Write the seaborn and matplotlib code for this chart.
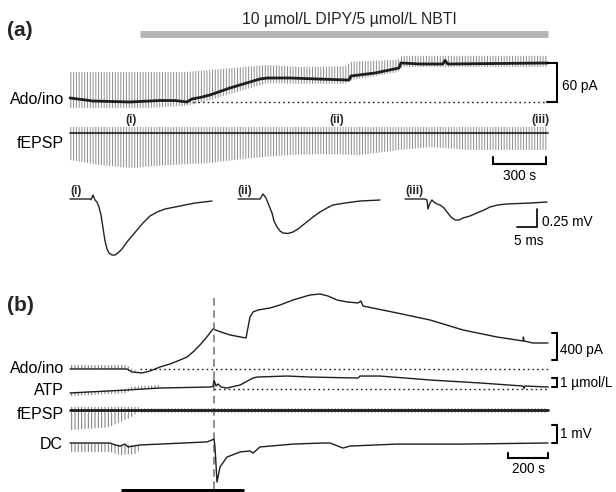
import matplotlib
matplotlib.use("Agg")
import matplotlib.pyplot as plt
import seaborn as sns

# ======================= DATA =======================
# ---- Panel (a): Ado/ino biosensor current (pA) vs time (s)
a_ado_t = [0, 130, 340, 509, 594, 662, 690, 736, 792, 849, 905, 962, 1019,
           1075, 1115, 1245, 1400, 1579, 1590, 1726, 1862, 1873, 1981, 2111,
           2122, 2139, 2705]
a_ado_pA = [6.2, 1.5, 0, 2.3, 2.3, 0, 4.6, 6.9, 10.8, 16.2, 21.5, 26.2, 30.8,
            35.4, 36.9, 36.9, 35.4, 33.8, 40, 44.6, 52.3, 60, 58.5, 58.5,
            63.8, 58.5, 60]
# envelope of stimulus artefacts on the current trace
a_ado_spk_t = [0, 453, 651, 736, 1115, 1302, 1556, 1596, 1856, 1879, 2705]
a_ado_spk_hi = [46, 46, 46, 48, 57, 54, 55, 62, 65, 71, 71]
a_ado_spk_lo = [-9, -9, -6, -1.5, 29, 28, 28, 34, 46, 54, 54]
a_ado_base_t = [696, 2705]

# ---- Panel (a): fEPSP (mV) vs time (s)
a_fepsp_t = [0, 2705]
a_fepsp_mV = [0, 0]
a_fepsp_spk_t = [0, 170, 340, 566, 792, 1019, 1245, 1415, 1641, 1868, 2037,
                 2264, 2434, 2705]
a_fepsp_spk_lo = [-1.5, -1.78, -1.94, -1.78, -1.67, -1.39, -1.22, -1.17, -1.22,
                  -0.94, -0.78, -0.94, -0.94, -0.94]
a_fepsp_spk_hi = [0.33] * 14
a_drug_on, a_drug_off = 396, 2705
a_drug_label = "10 \u00b5mol/L DIPY/5 \u00b5mol/L NBTI"
a_sample_names = ["(i)", "(ii)", "(iii)"]
a_sample_times = [348, 1511, 2665]

# ---- Panel (a): averaged fEPSPs (ms, mV)
s1_ms = [0, 5, 5.25, 5.75, 6.25, 6.75, 7.25, 7.75, 8.25, 8.75, 9.25, 9.75,
         10.5, 11.25, 12, 13, 14.25, 15.5, 16.75, 18.25, 20, 21.75, 23.75,
         26.25, 28.75, 31.25, 35.5]
s1_mV = [0, 0, -0.01, 0.056, -0.014, -0.042, -0.111, -0.222, -0.403, -0.583,
         -0.694, -0.75, -0.778, -0.778, -0.75, -0.694, -0.597, -0.514, -0.431,
         -0.333, -0.236, -0.181, -0.139, -0.111, -0.083, -0.056, -0.028]
s2_ms = [0, 5, 5.5, 6.25, 7, 7.5, 8.5, 9.0, 9.75, 10.5, 11.25, 12.5, 13.75, 15,
         16.25, 17.5, 18.75, 20.5, 22.25, 23.75, 26.75, 30.5, 35.5]
s2_mV = [0, 0, 0, 0.069, 0.014, -0.056, -0.194, -0.306, -0.389, -0.444,
         -0.472, -0.479, -0.458, -0.417, -0.361, -0.306, -0.25, -0.181,
         -0.125, -0.083, -0.056, -0.028, -0.014]
s3_ms = [0, 5, 5.5, 5.75, 6.25, 6.75, 7.25, 8, 8.75, 9.75, 10.5, 11.5, 12.5,
         13.5, 14.5, 16.25, 18, 19.75, 21.25, 23.25, 25.5, 28.25, 31.25, 35.5]
s3_mV = [0, 0, -0.014, -0.139, -0.056, -0.014, -0.042, -0.069, -0.083, -0.125,
         -0.181, -0.25, -0.292, -0.292, -0.264, -0.236, -0.194, -0.153,
         -0.111, -0.083, -0.069, -0.063, -0.056, -0.042]

# ---- Panel (b): Ado/ino (pA), ATP (umol/L), fEPSP (mV), DC (mV) vs time (s)
b_ado_t = [0, 285, 310, 360, 400, 450, 500, 550, 585, 615, 650, 680, 715, 740,
           800, 880, 900, 915, 940, 1000, 1050, 1115, 1200, 1250, 1290, 1335,
           1385, 1440, 1455, 1465, 1635, 1800, 1965, 2135, 2265, 2267, 2270,
           2315, 2390]
b_ado_pA = [0, 0, -44, -59, -30, 30, 74, 133, 178, 252, 356, 459, 593, 563,
            504, 459, 770, 844, 874, 904, 948, 1022, 1096, 1111, 1081, 1022,
            993, 978, 1007, 933, 830, 726, 578, 474, 415, 474, 415, 385, 385]
b_ado_spk_t = [0, 285, 300, 330]
b_ado_spk_hi = [59, 59, 15, -15]
b_ado_spk_lo = [0, 0, -44, -59]
b_ado_base_t = [350, 2390]

b_atp_t = [0, 285, 450, 700, 715, 720, 730, 740, 755, 785, 850, 915, 935, 1085,
           1200, 1440, 1450, 1550, 1800, 2050, 2265, 2270, 2275, 2390]
b_atp_uM = [-0.44, -0.11, 0.11, 0.22, 0.28, 1.0, 0.33, 0.56, 0.22, 0.11, 0.44,
            1.22, 1.33, 1.44, 1.33, 1.22, 1.44, 1.44, 1.0, 0.67, 0.33, 0.06,
            0.33, 0.22]
b_atp_spk_t = [0, 285, 300, 450]
b_atp_spk_hi = [-0.4, -0.05, 0.25, 0.45]
b_atp_spk_lo = [-0.8, -0.45, -0.11, 0.11]
b_atp_base_t = [720, 2390]

b_fepsp_t = [0, 2390]
b_fepsp_mV = [0, 0]
b_fepsp_spk_t = [0, 150, 200, 250, 300, 335, 345]
b_fepsp_spk_lo = [-1.11, -1.0, -0.94, -0.67, -0.44, -0.17, 0]
b_fepsp_spk_hi = [0.17] * 7
b_fepsp_tick_t = [345, 2390]
b_fepsp_tick_lo = [-0.14, -0.14]
b_fepsp_tick_hi = [0.12, 0.12]

b_dc_t = [0, 200, 225, 250, 275, 290, 350, 450, 685, 710, 720, 725, 735, 750,
          785, 850, 900, 915, 950, 1115, 1265, 1300, 1365, 1400, 1635, 1965, 2390]
b_dc_mV = [0, 0, -0.11, -0.17, -0.06, -0.22, -0.11, -0.06, 0.06, 0.17, 0.22,
           -0.22, -2.17, -1.33, -0.78, -0.5, -0.44, -0.56, -0.22, -0.06, 0, 0,
           -0.28, -0.17, -0.06, -0.06, 0]
b_dc_spk_t = [0, 200, 250, 330, 350]
b_dc_spk_lo = [-0.5, -0.5, -0.67, -0.6, -0.35]
b_dc_spk_hi = [0, 0, -0.1, -0.1, -0.1]

b_event_t = 720
b_bar_on, b_bar_off = 255, 870

# ======================= STYLE / LAYOUT =======================
sns.set_style("white")
plt.rcParams["font.family"] = ["Liberation Sans", "DejaVu Sans"]
plt.rcParams["hatch.linewidth"] = 0.7

W, H = 616, 492
fig = plt.figure(figsize=(W / 100, H / 100), dpi=100)
INK = "#1e1e1e"
SPK = "#8c8c8c"


def layer(x_px, x_val, x_ppu, y_px, y_val, y_ppu):
    """Full-figure transparent axes whose data scale puts x_val at x_px and
    y_val at y_px (pixels from the top-left), with given pixels-per-unit."""
    ax = fig.add_axes([0, 0, 1, 1])
    ax.set_axis_off()
    ax.patch.set_visible(False)
    ax.set_xlim(x_val - x_px / x_ppu, x_val + (W - x_px) / x_ppu)
    ax.set_ylim(y_val - (H - y_px) / y_ppu, y_val + y_px / y_ppu)
    return ax


def trace(ax, t, v, lw, color=INK):
    sns.lineplot(x=t, y=v, ax=ax, color=color, linewidth=lw, sort=False,
                 estimator=None, legend=False)


def spikes(ax, t, lo, hi, n, color=SPK):
    ax.fill_between(t, lo, hi, facecolor="none", edgecolor=color,
                    linewidth=0, hatch="|" * n)


def ftext(x, y, s, **kw):
    fig.text(x / W, 1 - y / H, s, **kw)


def fy(px):
    return 1 - px / H


LBL = dict(fontsize=11.5, ha="right", va="baseline", color="black")
SC = dict(fontsize=9.8, va="baseline", color="black")

# ---------------- panel (a) ----------------
ppu_a = 53 / 300
ax_a1 = layer(70, 0, ppu_a, 102, 0, 0.65)
spikes(ax_a1, a_ado_spk_t, a_ado_spk_lo, a_ado_spk_hi, 6)
ax_a1.plot(a_ado_base_t, [0, 0], color=INK, lw=1.0, ls=(0, (1.2, 2.2)))
trace(ax_a1, a_ado_t, a_ado_pA, 2.0)
# drug application bar
ax_a1.plot([a_drug_on, a_drug_off], [fy(33.5)] * 2, color="#b4b4b4", lw=5,
           solid_capstyle="butt", transform=ax_a1.get_xaxis_transform())
# 60 pA bracket
ax_a1.plot([2699, 2756, 2756, 2699], [0, 0, 60, 60], color="black", lw=1.5,
           solid_joinstyle="miter")

ax_a2 = layer(70, 0, ppu_a, 133, 0, 18)
spikes(ax_a2, a_fepsp_spk_t, a_fepsp_spk_lo, a_fepsp_spk_hi, 6)
trace(ax_a2, a_fepsp_t, a_fepsp_mV, 1.2)
for name, t in zip(a_sample_names, a_sample_times):
    ax_a2.text(t, fy(123), name, transform=ax_a2.get_xaxis_transform(),
               fontsize=8.5, fontweight="bold", ha="center", va="baseline")
# 300 s bar
ax_a2.plot([2394, 2394, 2694, 2694], [-1.33, -1.72, -1.72, -1.33],
           color="black", lw=1.5, solid_joinstyle="miter")

# averaged fEPSPs
for x0, ms, mv in [(70, s1_ms, s1_mV), (238, s2_ms, s2_mV), (405, s3_ms, s3_mV)]:
    axs = layer(x0, 0, 4, 199, 0, 72)
    trace(axs, ms, mv, 1.0, color="#222222")
axs.plot([28, 33, 33], [-0.389, -0.389, -0.139], color="black", lw=1.2,
         solid_joinstyle="miter")
for x0, name in [(70, "(i)"), (237, "(ii)"), (405, "(iii)")]:
    ftext(x0, 194, name, fontsize=8.5, fontweight="bold", ha="left",
          va="baseline")

# ---------------- panel (b) ----------------
ppu_b = 0.2
ax_b1 = layer(70, 0, ppu_b, 369, 0, 1 / 14.81)
spikes(ax_b1, b_ado_spk_t, b_ado_spk_lo, b_ado_spk_hi, 5, color="#777777")
ax_b1.plot(b_ado_base_t, [0, 0], color=INK, lw=1.0, ls=(0, (1.2, 2.2)))
trace(ax_b1, b_ado_t, b_ado_pA, 1.0)
ax_b1.plot([2410, 2435, 2435, 2410], [133, 133, 533, 533], color="black",
           lw=1.5, solid_joinstyle="miter")
# event line and bar
ax_b1.plot([b_event_t, b_event_t], [fy(298), fy(492)], color="#707070",
           lw=1.1, ls=(0, (5, 3)), transform=ax_b1.get_xaxis_transform())
ax_b1.plot([b_bar_on, b_bar_off], [fy(490.5)] * 2, color="black", lw=3.6,
           solid_capstyle="butt", transform=ax_b1.get_xaxis_transform())

ax_b2 = layer(70, 0, ppu_b, 389, 0, 9)
spikes(ax_b2, b_atp_spk_t, b_atp_spk_lo, b_atp_spk_hi, 5, color="#777777")
ax_b2.plot(b_atp_base_t, [0, 0], color=INK, lw=1.0, ls=(0, (1.2, 2.2)))
trace(ax_b2, b_atp_t, b_atp_uM, 1.0)
ax_b2.plot([2410, 2435, 2435, 2410], [0.22, 0.22, 1.22, 1.22], color="black",
           lw=1.5, solid_joinstyle="miter")

ax_b3 = layer(70, 0, ppu_b, 410, 0, 18)
spikes(ax_b3, b_fepsp_spk_t, b_fepsp_spk_lo, b_fepsp_spk_hi, 5,
       color="#777777")
spikes(ax_b3, b_fepsp_tick_t, b_fepsp_tick_lo, b_fepsp_tick_hi, 5,
       color="#9a9a9a")
trace(ax_b3, b_fepsp_t, b_fepsp_mV, 2.0)

ax_b4 = layer(70, 0, ppu_b, 443, 0, 18)
spikes(ax_b4, b_dc_spk_t, b_dc_spk_lo, b_dc_spk_hi, 5, color="#777777")
trace(ax_b4, b_dc_t, b_dc_mV, 1.0)
ax_b4.plot([2410, 2435, 2435, 2410], [0, 0, 1, 1], color="black", lw=1.5,
           solid_joinstyle="miter")
ax_b4.plot([2190, 2190, 2390, 2390], [-0.56, -0.83, -0.83, -0.56],
           color="black", lw=1.5, solid_joinstyle="miter")

# ---------------- text ----------------
ftext(7, 36, "(a)", fontsize=15, fontweight="bold", ha="left", va="baseline")
ftext(7, 311, "(b)", fontsize=15, fontweight="bold", ha="left", va="baseline")
ftext(242, 24, a_drug_label, fontsize=11.3, ha="left", va="baseline")

ftext(64, 104, "Ado/ino", **LBL)
ftext(64, 148, "fEPSP", **LBL)
ftext(64, 373, "Ado/ino", **LBL)
ftext(64, 395, "ATP", **LBL)
ftext(64, 419, "fEPSP", **LBL)
ftext(63, 449, "DC", **LBL)

ftext(562, 90, "60 pA", ha="left", **SC)
ftext(520, 180, "300 s", ha="center", **SC)
ftext(542, 226, "0.25 mV", ha="left", **SC)
ftext(529, 245, "5 ms", ha="center", **SC)
ftext(560, 354, "400 pA", ha="left", **SC)
ftext(560, 387, "1 \u00b5mol/L", ha="left", **SC)
ftext(560, 438, "1 mV", ha="left", **SC)
ftext(528, 473, "200 s", ha="center", **SC)

fig.savefig("out.png", dpi=100)
